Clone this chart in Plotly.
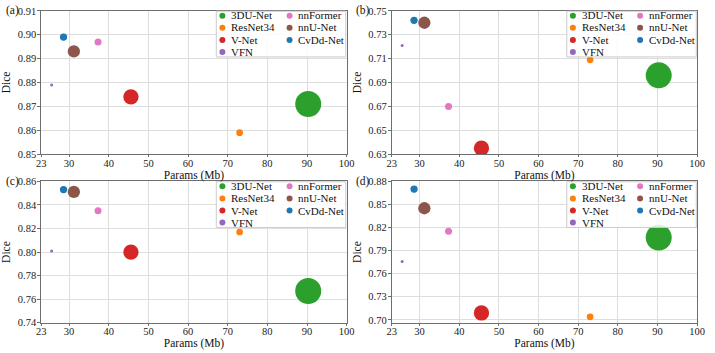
import plotly.graph_objects as go

# ---- data ----
models = ["3DU-Net", "ResNet34", "V-Net", "VFN", "nnFormer", "nnU-Net", "CvDd-Net"]
colors = ["#2ca02c", "#ff7f0e", "#d62728", "#9467bd", "#e377c2", "#8c564b", "#1f77b4"]
params_mb = [90.3, 73.0, 45.6, 25.6, 37.3, 31.2, 28.6]
bubble_size = [26, 6.7, 15.3, 3, 7, 12.3, 7.3]

dice_a = [0.871, 0.859, 0.874, 0.879, 0.897, 0.893, 0.899]
dice_b = [0.696, 0.709, 0.635, 0.721, 0.670, 0.740, 0.742]
dice_c = [0.767, 0.817, 0.800, 0.801, 0.835, 0.851, 0.853]
dice_d = [0.807, 0.704, 0.709, 0.776, 0.815, 0.845, 0.870]
panel_data = [dice_a, dice_b, dice_c, dice_d]
panel_labels = ["(a)", "(b)", "(c)", "(d)"]

x_ticks = [23, 30, 40, 50, 60, 70, 80, 90, 100]
y_ticks_a = [0.85, 0.86, 0.87, 0.88, 0.89, 0.90, 0.91]
y_ticks_b = [0.63, 0.65, 0.67, 0.69, 0.71, 0.73, 0.75]
y_ticks_c = [0.74, 0.76, 0.78, 0.80, 0.82, 0.84, 0.86]
y_ticks_d = [0.70, 0.73, 0.76, 0.79, 0.82, 0.85, 0.88]
y_ticks = [y_ticks_a, y_ticks_b, y_ticks_c, y_ticks_d]
y_ranges = [[0.85, 0.91], [0.63, 0.75], [0.74, 0.86], [0.69625, 0.88]]

# ---- layout geometry ----
W, H = 715, 353
FONT = "Liberation Serif, Times New Roman, serif"
x_domains = [[37 / W, 348 / W], [394 / W, 705 / W], [37 / W, 348 / W], [394 / W, 705 / W]]
top_dom = [1 - 154 / H, 1 - 6 / H]
bot_dom = [1 - 328 / H, 1 - 182 / H]
y_domains = [top_dom, top_dom, bot_dom, bot_dom]

fig = go.Figure()
axis_col = "#6e6e6e"
grid_col = "#dedede"

shapes = []
annotations = []

ROW_PX = 12.4
LEG_FONT = 11
for k in range(4):
    sfx = "" if k == 0 else str(k + 1)
    xa, ya = "x" + sfx, "y" + sfx
    for i, m in enumerate(models):
        fig.add_trace(go.Scatter(
            x=[params_mb[i]], y=[panel_data[k][i]], mode="markers",
            marker=dict(size=bubble_size[i], color=colors[i], line=dict(width=0)),
            name=m, showlegend=False, xaxis=xa, yaxis=ya,
        ))
    common = dict(showline=True, linecolor=axis_col, linewidth=1, mirror=True,
                  showgrid=True, gridcolor=grid_col, gridwidth=1,
                  ticks="outside", tickcolor=axis_col,
                  tickfont=dict(family=FONT, size=10.5, color="#222"), zeroline=False)
    fig.layout["xaxis" + sfx] = dict(
        domain=x_domains[k], anchor=ya, range=[23, 100], tickvals=x_ticks, ticklen=2,
        ticklabelstandoff=-3,
        title=dict(text="Params (Mb)", font=dict(family=FONT, size=11.5, color="#111"), standoff=0),
        **common)
    fig.layout["yaxis" + sfx] = dict(
        domain=y_domains[k], anchor=xa, range=y_ranges[k], tickvals=y_ticks[k], ticklen=3,
        tickformat=".2f", ticklabelstandoff=-1,
        title=dict(text="Dice", font=dict(family=FONT, size=11.5, color="#111"), standoff=4),
        **common)

    xr, yr = xa + " domain", ya + " domain"
    plot_h = (y_domains[k][1] - y_domains[k][0]) * H
    step = ROW_PX / plot_h
    top_px = 5.2  # first row centre, px below the plot top
    rows_y = [1 - (top_px + r * ROW_PX) / plot_h for r in range(4)]
    # legend frame
    shapes.append(dict(type="rect", xref=xr, yref=yr, x0=0.573, x1=0.997,
                       y0=rows_y[3] - 0.42 * step, y1=0.997,
                       line=dict(color="#cccccc", width=1), fillcolor="rgba(255,255,255,0.85)",
                       layer="above"))
    cols = [models[:4], models[4:]]
    for c, names in enumerate(cols):
        mx = [0.593, 0.813][c]
        tx = [0.619, 0.838][c]
        for r, m in enumerate(names):
            i = models.index(m)
            shapes.append(dict(type="circle", xref=xr, yref=yr, xsizemode="pixel", ysizemode="pixel",
                               xanchor=mx, yanchor=rows_y[r], x0=-3, x1=3, y0=-3, y1=3,
                               fillcolor=colors[i], line=dict(width=0), layer="above"))
        txt = "<br>".join('<span style="font-size:%dpx">%s</span>' % (LEG_FONT, m) for m in names)
        cy = sum(rows_y[:len(names)]) / len(names)
        annotations.append(dict(xref=xr, yref=yr, x=tx, y=cy, text=txt, showarrow=False,
                                xanchor="left", yanchor="middle", align="left", borderpad=0,
                                font=dict(family=FONT, size=ROW_PX / 1.3, color="#111")))
    # panel label
    annotations.append(dict(xref="paper", yref=yr, x=[0, 356 / W, 0, 356 / W][k], y=1.0,
                            text=panel_labels[k], showarrow=False, xanchor="left", yanchor="middle",
                            borderpad=0, font=dict(family=FONT, size=11.5, color="#111")))

fig.update_layout(
    width=W, height=H, margin=dict(l=0, r=0, t=0, b=0),
    paper_bgcolor="white", plot_bgcolor="white",
    shapes=shapes, annotations=annotations, showlegend=False,
)

fig.write_html("out.html")
